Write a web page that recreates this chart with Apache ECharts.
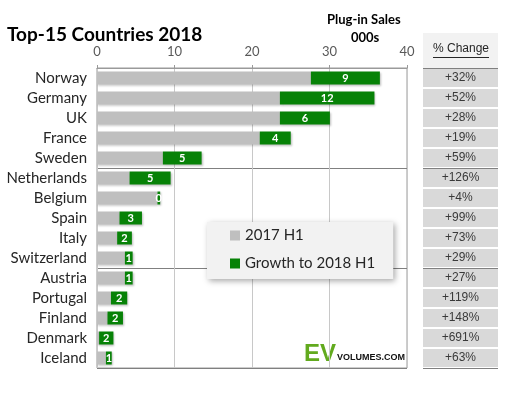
<!DOCTYPE html>
<html><head><meta charset="utf-8">
<script src="https://cdn.jsdelivr.net/npm/echarts@6/dist/echarts.min.js"></script>
<style>html,body{margin:0;padding:0;background:#fff}#c{width:512px;height:396px}</style>
</head><body><div id="c"></div>
<script>
const countries = ['Norway','Germany','UK','France','Sweden','Netherlands','Belgium','Spain','Italy','Switzerland','Austria','Portugal','Finland','Denmark','Iceland'];
const sales2017H1 = [27.6,23.6,23.6,21.0,8.5,4.2,7.8,2.9,2.6,3.6,3.6,1.8,1.35,0.27,1.15];
const growthTo2018H1 = [8.9,12.2,6.45,4.0,5.0,5.3,0.35,2.9,1.9,1.0,1.0,2.1,2.0,1.85,0.75];
const pctChange = ['+32%','+52%','+28%','+19%','+59%','+126%','+4%','+99%','+73%','+29%','+27%','+119%','+148%','+691%','+63%'];
const xTicks = {min:0, max:40, interval:10};

const chart = echarts.init(document.getElementById('c'));
const sepIdx = (i) => i === 5 || i === 10;
chart.setOption({
  animation:false,
  title:{text:'Top-15 Countries 2018', left:2, top:20, textStyle:{fontFamily:'Lato', fontWeight:'bold', fontSize:19, color:'#000'}},
  legend:{
    orient:'vertical', left:207, top:222, itemWidth:10, itemHeight:10, itemGap:13,
    padding:[6,18,8,23], backgroundColor:'#f2f2f2',
    shadowColor:'rgba(0,0,0,0.35)', shadowBlur:6, shadowOffsetX:2, shadowOffsetY:2,
    textStyle:{fontFamily:'Lato', fontSize:15, color:'#262626'},
    data:[{name:'2017 H1', icon:'rect'},{name:'Growth to 2018 H1', icon:'rect'}]
  },
  grid:[
    {left:97, right:105, top:68, bottom:28, show:true, borderColor:'#9a9a9a', borderWidth:1},
    {left:423, right:14, top:68, bottom:28}
  ],
  xAxis:[
    {gridIndex:0, type:'value', position:'top', min:xTicks.min, max:xTicks.max, interval:xTicks.interval,
     axisLine:{show:true, lineStyle:{color:'#9a9a9a'}}, axisTick:{show:true, length:3, lineStyle:{color:'#9a9a9a'}},
     axisLabel:{fontFamily:'Lato', fontSize:13, color:'#595959', margin:10},
     splitLine:{show:true, lineStyle:{color:'#c8c8c8'}}},
    {gridIndex:1, type:'value', min:0, max:1, show:false}
  ],
  yAxis:[
    {gridIndex:0, type:'category', inverse:true, data:countries,
     axisLine:{show:false}, axisTick:{show:false},
     axisLabel:{fontFamily:'Lato', fontSize:15, color:'#262626', margin:10},
     splitLine:{show:true, interval:(i)=>sepIdx(i), lineStyle:{color:'#808080'}}},
    {gridIndex:1, type:'category', inverse:true, data:countries,
     axisLine:{show:false}, axisTick:{show:false}, axisLabel:{show:false},
     splitLine:{show:true, interval:(i)=>i===0||sepIdx(i), lineStyle:{color:'#808080'}}}
  ],
  series:[
    {name:'2017 H1', type:'bar', stack:'s', xAxisIndex:0, yAxisIndex:0, barWidth:13, data:sales2017H1,
     itemStyle:{color:'#bfbfbf', shadowColor:'rgba(0,0,0,0.2)', shadowBlur:2, shadowOffsetX:1, shadowOffsetY:1}},
    {name:'Growth to 2018 H1', type:'bar', stack:'s', xAxisIndex:0, yAxisIndex:0, barWidth:13, data:growthTo2018H1,
     itemStyle:{color:'#078207', shadowColor:'rgba(0,0,0,0.25)', shadowBlur:2, shadowOffsetX:1, shadowOffsetY:1},
     label:{show:true, position:'inside', formatter:(p)=>Math.round(p.value), color:'#fff', fontFamily:'Lato', fontWeight:'bold', fontSize:11}},
    {name:'pct', type:'bar', xAxisIndex:1, yAxisIndex:1, barCategoryGap:'10%', silent:true,
     data:pctChange.map(()=>1), itemStyle:{color:'#d9d9d9'},
     label:{show:true, position:'inside', formatter:(p)=>pctChange[p.dataIndex], color:'#3a3a3a', fontFamily:'Liberation Sans', fontSize:12}}
  ],
  graphic:[
    {type:'rect', left:423, top:33, shape:{width:75, height:35}, style:{fill:'#f2f2f2'}, z:-1},
    {type:'text', left:433, top:43, style:{text:'% Change', font:'12px "Liberation Sans"', fill:'#262626'}},
    {type:'rect', left:433, top:57, shape:{width:56, height:1}, style:{fill:'#262626'}},
    {type:'text', left:327, top:13, style:{text:'Plug-in Sales', font:'bold 13px Lato', fill:'#000'}},
    {type:'text', left:351, top:31, style:{text:'000s', font:'bold 13px Lato', fill:'#000'}},
    {type:'text', left:304, top:342, style:{text:'EV', font:'bold 24px "Liberation Sans"', fill:'#62aa1e'}},
    {type:'text', left:337, top:353, style:{text:'VOLUMES.COM', font:'bold 9px "Liberation Sans"', fill:'#111'}}
  ]
});
</script></body></html>
